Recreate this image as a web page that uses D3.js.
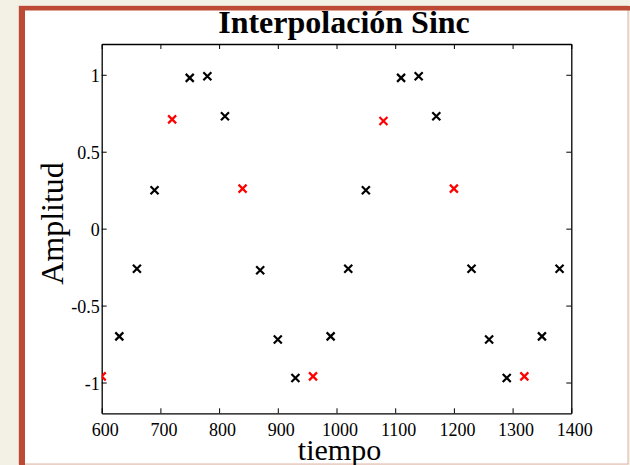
<html>
<head>
<script src="https://d3js.org/d3.v7.min.js"></script>
<style>
  body { margin: 0; background: #f3f1e6; }
  text { font-family: "Liberation Serif", "Times New Roman", serif; }
  .axis .domain { stroke: #000; stroke-width: 1.3; }
  .axis line { stroke: #000; stroke-width: 1; }
</style>
</head>
<body>
<svg id="graph" width="630" height="465"></svg>
<script>
// muestras originales (rojo) y puntos interpolados (negro)
const tiempoRojo = [600, 720, 840, 960, 1080, 1200, 1320];
const amplitudRojo = [-0.96, 0.71, 0.26, -0.96, 0.70, 0.26, -0.96];

const tiempoNegro = [630, 660, 690, 750, 780, 810, 870, 900, 930, 990, 1020, 1050,
                     1110, 1140, 1170, 1230, 1260, 1290, 1350, 1380];
const amplitudNegro = [-0.70, -0.26, 0.25, 0.98, 0.99, 0.73, -0.27, -0.72, -0.97, -0.70, -0.26, 0.25,
                       0.98, 0.99, 0.73, -0.26, -0.72, -0.97, -0.70, -0.26];

const xTicks = [600, 700, 800, 900, 1000, 1100, 1200, 1300, 1400];
const yTicks = [-1, -0.5, 0, 0.5, 1];
const yTickLabels = ["-1", "-0.5", "0", "0.5", "1"];

const svg = d3.select("#graph");
const plotLeft = 101.7, plotRight = 571.3, plotTop = 44, plotBottom = 413.3;

// marco de la diapositiva
svg.append("rect").attr("x", 19).attr("y", 6).attr("width", 609).attr("height", 458)
   .attr("fill", "#fff").attr("stroke", "#e2b2a8").attr("stroke-width", 1);
svg.append("rect").attr("x", 19).attr("y", 6).attr("width", 611).attr("height", 4.5).attr("fill", "#bd4a34");
svg.append("rect").attr("x", 19).attr("y", 6).attr("width", 6).attr("height", 459).attr("fill", "#bd4a34");

const xScale = d3.scaleLinear().domain([600, 1400]).range([plotLeft, plotRight]);
const yScale = d3.scaleLinear().domain([-1.2, 1.2]).range([plotBottom, plotTop]);

// ejes estilo matlab, ticks hacia dentro
svg.append("g").attr("class", "axis")
   .attr("transform", `translate(0,${plotBottom})`)
   .call(d3.axisBottom(xScale).tickValues(xTicks).tickSizeInner(-5).tickSizeOuter(0).tickPadding(10.4)
         .tickFormat(d3.format("d")))
   .call(g => g.selectAll("text").attr("font-size", 18).attr("fill", "#000").attr("dx", 3));

svg.append("g").attr("class", "axis")
   .attr("transform", `translate(0,${plotTop})`)
   .call(d3.axisTop(xScale).tickValues(xTicks).tickSizeInner(-5).tickSizeOuter(0).tickFormat(""));

svg.append("g").attr("class", "axis")
   .attr("transform", `translate(${plotLeft},0)`)
   .call(d3.axisLeft(yScale).tickValues(yTicks).tickSizeInner(-5).tickSizeOuter(0).tickPadding(2)
         .tickFormat((d, i) => yTickLabels[i]))
   .call(g => g.selectAll("text").attr("font-size", 18).attr("fill", "#000").attr("dy", "0.36em"));

svg.append("g").attr("class", "axis")
   .attr("transform", `translate(${plotRight},0)`)
   .call(d3.axisRight(yScale).tickValues(yTicks).tickSizeInner(-5).tickSizeOuter(0).tickFormat(""));

// puntos
svg.append("clipPath").attr("id", "clip")
   .append("rect").attr("x", plotLeft).attr("y", plotTop)
   .attr("width", plotRight - plotLeft).attr("height", plotBottom - plotTop);

const marca = "M-4,-4L4,4M-4,4L4,-4";
const puntos = svg.append("g").attr("clip-path", "url(#clip)");

puntos.selectAll(".negro")
   .data(tiempoNegro.map((t, i) => [t, amplitudNegro[i]]))
   .join("path")
   .attr("class", "negro")
   .attr("d", marca)
   .attr("transform", d => `translate(${xScale(d[0])},${yScale(d[1])})`)
   .attr("stroke", "#000").attr("stroke-width", 2.2).attr("fill", "none");

puntos.selectAll(".rojo")
   .data(tiempoRojo.map((t, i) => [t, amplitudRojo[i]]))
   .join("path")
   .attr("class", "rojo")
   .attr("d", marca)
   .attr("transform", d => `translate(${xScale(d[0])},${yScale(d[1])})`)
   .attr("stroke", "#ff0000").attr("stroke-width", 2.2).attr("fill", "none");

// textos
svg.append("text").attr("x", 344).attr("y", 33).attr("text-anchor", "middle")
   .attr("font-size", 32).attr("font-weight", "bold").text("Interpolación Sinc");

svg.append("text").attr("x", 339.5).attr("y", 460).attr("text-anchor", "middle")
   .attr("font-size", 30).text("tiempo");

svg.append("text").attr("transform", "translate(63,223.5) rotate(-90)").attr("text-anchor", "middle")
   .attr("font-size", 32).text("Amplitud");
</script>
</body>
</html>
